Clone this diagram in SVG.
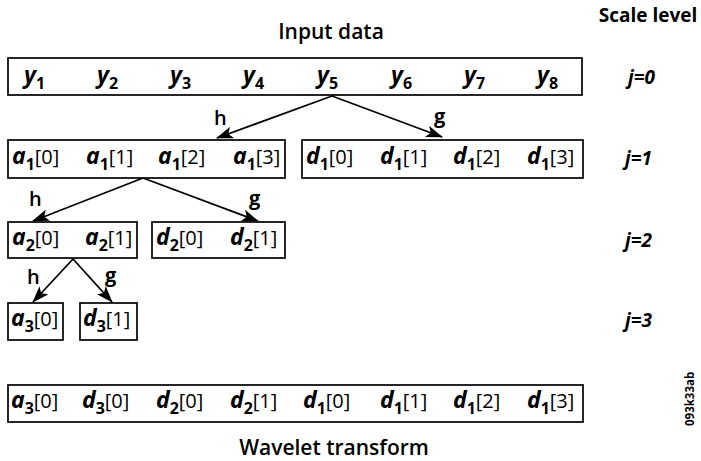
<svg xmlns="http://www.w3.org/2000/svg" width="701" height="461" viewBox="0 0 701 461">
<style>
text{font-family:"Open Sans","Noto Sans","DejaVu Sans",sans-serif;fill:#000}
.box{fill:#fff;stroke:#000;stroke-width:1.7}
.v{font-style:italic;font-weight:700;font-size:23px}
.s{font-style:normal;font-weight:700;font-size:16px}
.b{font-style:normal;font-weight:400;font-size:20px}
.t{font-weight:600;font-size:21px}
.lbl{font-weight:600;font-size:20px}
.j{font-style:italic;font-weight:700;font-size:19px}
.c{stroke:#000;stroke-width:1.8;fill:none;marker-end:url(#ah)}
</style>
<defs>
<marker id="ah" viewBox="0 0 17 12" refX="16" refY="6" markerWidth="17" markerHeight="12" markerUnits="userSpaceOnUse" orient="auto">
<path d="M0,0 L17,6 L0,12 L4,6 z" fill="#000"/>
</marker>
</defs>
<rect width="701" height="461" fill="#fff"/>
<text x="331" y="39" class="t" text-anchor="middle">Input data</text>
<text x="648" y="22" class="t" text-anchor="middle" style="font-weight:700;font-size:19px">Scale level</text>
<text x="334" y="455" class="t" text-anchor="middle">Wavelet transform</text>
<text class="j" x="628" y="84">j=0</text>
<text class="j" x="625" y="165">j=1</text>
<text class="j" x="625" y="247">j=2</text>
<text class="j" x="625" y="327">j=3</text>
<text transform="translate(694,426) rotate(-90)" style="font-weight:700;font-size:11.5px">093k33ab</text>

<g id="connectors">
<line class="c" x1="332" y1="96" x2="217" y2="138"/>
<line class="c" x1="332" y1="96" x2="442" y2="137"/>
<line class="c" x1="143" y1="178" x2="33" y2="221"/>
<line class="c" x1="143" y1="178" x2="258" y2="221"/>
<line class="c" x1="73" y1="259" x2="33" y2="302"/>
<line class="c" x1="73" y1="259" x2="112" y2="302"/>
<text class="lbl" x="214" y="125">h</text>
<text class="lbl" x="434" y="123" style="font-weight:700">g</text>
<text class="lbl" x="29" y="206">h</text>
<text class="lbl" x="249" y="205" style="font-weight:700">g</text>
<text class="lbl" x="27" y="284">h</text>
<text class="lbl" x="105" y="282" style="font-weight:700">g</text>
</g>

<g id="input">
<rect class="box" x="8" y="58" width="574" height="37"/>
<text class="v" x="24" y="83">y<tspan class="s" dy="6">1</tspan></text>
<text class="v" x="97" y="83">y<tspan class="s" dy="6">2</tspan></text>
<text class="v" x="170" y="83">y<tspan class="s" dy="6">3</tspan></text>
<text class="v" x="243" y="83">y<tspan class="s" dy="6">4</tspan></text>
<text class="v" x="317" y="83">y<tspan class="s" dy="6">5</tspan></text>
<text class="v" x="391" y="83">y<tspan class="s" dy="6">6</tspan></text>
<text class="v" x="464" y="83">y<tspan class="s" dy="6">7</tspan></text>
<text class="v" x="537" y="83">y<tspan class="s" dy="6">8</tspan></text>
</g>

<g id="a1">
<rect class="box" x="8" y="140" width="277" height="38"/>
<text class="v" x="12" y="164">a<tspan class="s" dy="6">1</tspan><tspan class="b" dy="-6">[0]</tspan></text>
<text class="v" x="86" y="164">a<tspan class="s" dy="6">1</tspan><tspan class="b" dy="-6">[1]</tspan></text>
<text class="v" x="158" y="164">a<tspan class="s" dy="6">1</tspan><tspan class="b" dy="-6">[2]</tspan></text>
<text class="v" x="233" y="164">a<tspan class="s" dy="6">1</tspan><tspan class="b" dy="-6">[3]</tspan></text>
</g>
<g id="d1">
<rect class="box" x="302" y="140" width="281" height="38"/>
<text class="v" x="306" y="164">d<tspan class="s" dy="6">1</tspan><tspan class="b" dy="-6">[0]</tspan></text>
<text class="v" x="380" y="164">d<tspan class="s" dy="6">1</tspan><tspan class="b" dy="-6">[1]</tspan></text>
<text class="v" x="453" y="164">d<tspan class="s" dy="6">1</tspan><tspan class="b" dy="-6">[2]</tspan></text>
<text class="v" x="527" y="164">d<tspan class="s" dy="6">1</tspan><tspan class="b" dy="-6">[3]</tspan></text>
</g>

<g id="a2">
<rect class="box" x="8" y="222" width="129" height="36"/>
<text class="v" x="12" y="245">a<tspan class="s" dy="6">2</tspan><tspan class="b" dy="-6">[0]</tspan></text>
<text class="v" x="85" y="245">a<tspan class="s" dy="6">2</tspan><tspan class="b" dy="-6">[1]</tspan></text>
</g>
<g id="d2">
<rect class="box" x="152" y="222" width="133" height="36"/>
<text class="v" x="156" y="245">d<tspan class="s" dy="6">2</tspan><tspan class="b" dy="-6">[0]</tspan></text>
<text class="v" x="230" y="245">d<tspan class="s" dy="6">2</tspan><tspan class="b" dy="-6">[1]</tspan></text>
</g>

<g id="a3">
<rect class="box" x="8" y="303" width="55" height="37"/>
<text class="v" x="11" y="326">a<tspan class="s" dy="6">3</tspan><tspan class="b" dy="-6">[0]</tspan></text>
</g>
<g id="d3">
<rect class="box" x="80" y="303" width="57" height="37"/>
<text class="v" x="83" y="326">d<tspan class="s" dy="6">3</tspan><tspan class="b" dy="-6">[1]</tspan></text>
</g>

<g id="transform">
<rect class="box" x="8" y="385" width="575" height="37"/>
<text class="v" x="11" y="408">a<tspan class="s" dy="6">3</tspan><tspan class="b" dy="-6">[0]</tspan></text>
<text class="v" x="82" y="408">d<tspan class="s" dy="6">3</tspan><tspan class="b" dy="-6">[0]</tspan></text>
<text class="v" x="156" y="408">d<tspan class="s" dy="6">2</tspan><tspan class="b" dy="-6">[0]</tspan></text>
<text class="v" x="230" y="408">d<tspan class="s" dy="6">2</tspan><tspan class="b" dy="-6">[1]</tspan></text>
<text class="v" x="303" y="408">d<tspan class="s" dy="6">1</tspan><tspan class="b" dy="-6">[0]</tspan></text>
<text class="v" x="380" y="408">d<tspan class="s" dy="6">1</tspan><tspan class="b" dy="-6">[1]</tspan></text>
<text class="v" x="453" y="408">d<tspan class="s" dy="6">1</tspan><tspan class="b" dy="-6">[2]</tspan></text>
<text class="v" x="527" y="408">d<tspan class="s" dy="6">1</tspan><tspan class="b" dy="-6">[3]</tspan></text>
</g>
</svg>
